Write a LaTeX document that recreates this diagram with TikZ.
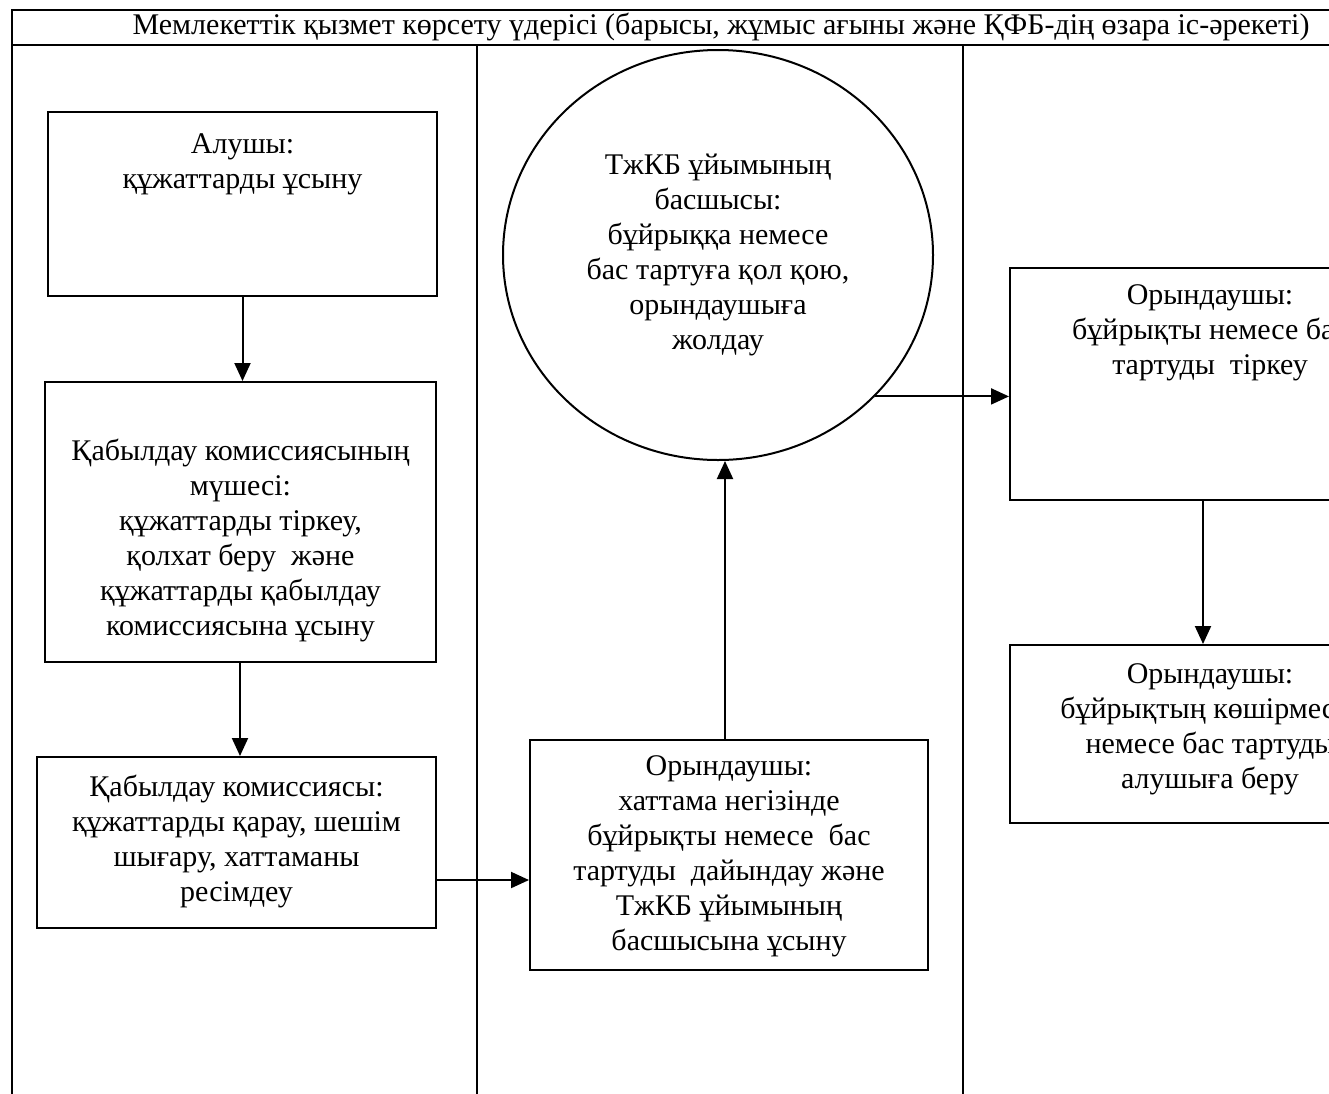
\documentclass[tikz,border=0pt]{standalone}
\usepackage{fontspec}
\setmainfont{Liberation Serif}
\usetikzlibrary{arrows.meta,shapes.geometric,calc}
\tikzset{
  stepbox/.style={draw, line width=2pt, rectangle, inner sep=0pt},
  oval/.style={draw, line width=2pt, ellipse, inner sep=0pt},
  txt/.style={align=center, font=\fontsize{30}{35}\selectfont, inner sep=0pt},
  arr/.style={line width=2pt, -{Triangle[length=18pt,width=16pt]}},
  lane/.style={line width=1.8pt}
}
\begin{document}
\begin{tikzpicture}[x=1pt,y=-1pt]
\clip (0,0) rectangle (1329,1093);
\fill[white] (0,0) rectangle (1329,1093);
% frame and lanes
\coordinate (tl) at (12,10);
\coordinate (tr) at (1340,10);
\coordinate (hl) at (12,45);
\coordinate (hr) at (1340,45);
\coordinate (bl) at (12,1100);
\draw[lane] (tr) -- (tl) -- (bl);
\draw[lane] (hl) -- (hr);
\coordinate (l1t) at (477,45);
\coordinate (l1b) at (477,1100);
\coordinate (l2t) at (963,45);
\coordinate (l2b) at (963,1100);
\draw[lane] (l1t) -- (l1b);
\draw[lane] (l2t) -- (l2b);
\node[txt, font=\fontsize{30}{32}\selectfont] (title) at (721,27) {Мемлекеттік қызмет көрсету үдерісі (барысы, жұмыс ағыны және ҚФБ-дің өзара іс-әрекеті)};
% boxes
\node[stepbox, minimum width=389pt, minimum height=184pt] (b1) at (242.5,204) {};
\node[txt] (t1) at (242.5,164) {Алушы:\\құжаттарды ұсыну};
\node[stepbox, minimum width=391pt, minimum height=280pt] (b2) at (240.5,522) {};
\node[txt] (t2) at (240.5,540) {Қабылдау комиссиясының\\мүшесі:\\құжаттарды тіркеу,\\қолхат беру \ және\\құжаттарды қабылдау\\комиссиясына ұсыну};
\node[stepbox, minimum width=399pt, minimum height=171pt] (b3) at (236.5,842.5) {};
\node[txt] (t3) at (236.5,841) {Қабылдау комиссиясы:\\құжаттарды қарау, шешім\\шығару, хаттаманы\\ресімдеу};
\node[stepbox, minimum width=398pt, minimum height=230pt] (b4) at (729,855) {};
\node[txt] (t4) at (729,856) {Орындаушы:\\хаттама негізінде\\бұйрықты немесе \ бас\\тартуды \ дайындау және\\ТжКБ ұйымының\\басшысына ұсыну};
\node[oval, minimum width=430pt, minimum height=410pt] (e) at (718,255) {};
\node[txt] (te) at (718,255) {ТжКБ ұйымының\\басшысы:\\бұйрыққа немесе\\бас тартуға қол қою,\\орындаушыға\\жолдау};
\node[stepbox, minimum width=400pt, minimum height=232pt] (b5) at (1210,384) {};
\node[txt] (t5) at (1210,333) {Орындаушы:\\бұйрықты немесе бас\\тартуды \ тіркеу};
\node[stepbox, minimum width=400pt, minimum height=178pt] (b6) at (1210,734) {};
\node[txt] (t6) at (1210,729) {Орындаушы:\\бұйрықтың көшірмесін\\немесе бас тартуды\\алушыға беру};
% connectors
\draw[arr] (b1.south) -- (b1.south |- b2.north);
\draw[arr] (b2.south -| 240,0) -- (b3.north -| 240,0);
\draw[arr] (b3.east |- 0,880) -- (b4.west |- 0,880);
\draw[arr] (b4.north -| 725,0) -- (e.south -| 725,0);
\draw[arr] (e.-42.5) -- (e.-42.5 -| b5.west);
\draw[arr] (b5.south -| 1203,0) -- (b6.north -| 1203,0);
\end{tikzpicture}
\end{document}
